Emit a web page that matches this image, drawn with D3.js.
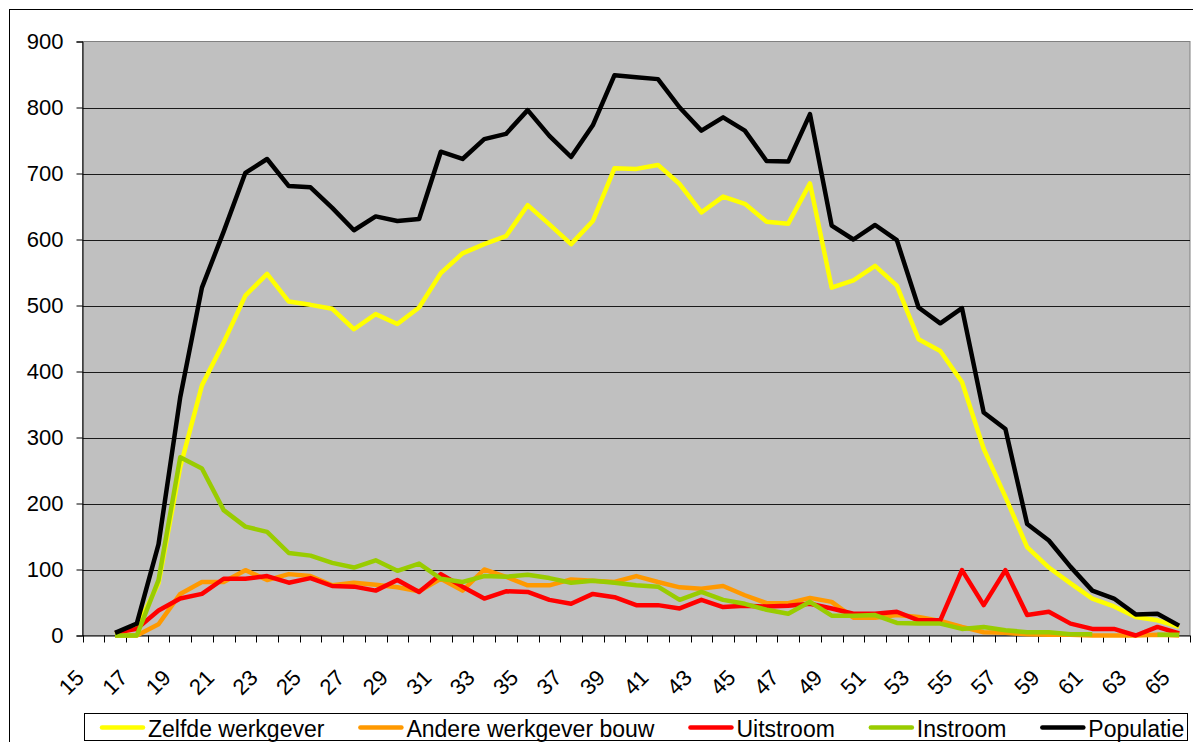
<!DOCTYPE html>
<html>
<head>
<meta charset="utf-8">
<script src="https://cdn.jsdelivr.net/npm/d3@7/dist/d3.min.js"></script>
<style>
  body { margin: 0; background: #fff; }
  svg { display: block; font-family: "Liberation Sans", Arial, sans-serif; }
</style>
</head>
<body>
<div id="chartArea"></div>
<script>
// ages on the x axis (15..65), labels every second one
const ages = d3.range(15, 66);
const tickLabels = ages.filter((a) => (a - 15) % 2 === 0);
const yTicks = [0, 100, 200, 300, 400, 500, 600, 700, 800, 900];

// values for ages 15..65 (null = no point)
const zelfde = [null, 2, 12, 79, 255, 379, 444, 515, 548, 506, 501, 495, 464, 487, 472, 497, 549, 579, 593, 605, 652, 623, 593, 628, 708, 707, 713, 684, 641, 665, 654, 627, 624, 685, 527, 538, 560, 530, 449, 431, 384, 283, 210, 134, 103, 79, 56, 44, 28, 23, 13];
const andere = [null, 0, 0, 17, 63, 81, 81, 99, 84, 93, 90, 76, 80, 77, 73, 67, 86, 68, 100, 89, 76, 76, 85, 83, 81, 90, 81, 73, 71, 75, 61, 49, 49, 57, 51, 27, 27, 31, 28, 22, 13, 5, 4, 2, 1, 1, 0, 0, 0, 1, 0];
const uitstroom = [null, 4, 10, 38, 56, 63, 86, 86, 90, 80, 87, 75, 74, 68, 84, 66, 93, 74, 56, 67, 66, 54, 48, 63, 58, 46, 46, 41, 54, 43, 45, 44, 45, 48, 41, 33, 33, 36, 23, 23, 99, 46, 99, 31, 36, 18, 10, 10, 0, 13, 3];
const instroom = [null, 0, 0, 84, 270, 253, 190, 165, 157, 125, 121, 110, 103, 114, 98, 109, 86, 81, 90, 89, 92, 87, 80, 83, 80, 76, 74, 54, 66, 54, 48, 39, 33, 51, 30, 30, 31, 19, 18, 18, 10, 13, 8, 5, 5, 2, 2, null, null, 1, 1];
const populatie = [null, 4, 18, 138, 361, 527, 612, 701, 722, 681, 679, 648, 614, 635, 628, 631, 733, 722, 752, 760, 796, 757, 725, 773, 849, 846, 843, 800, 765, 785, 765, 719, 718, 790, 621, 600, 622, 599, 497, 473, 496, 338, 313, 169, 144, 104, 68, 56, 32, 33, 15];

const seriesNames = ['Zelfde werkgever', 'Andere werkgever bouw', 'Uitstroom', 'Instroom', 'Populatie'];
const seriesValues = [zelfde, andere, uitstroom, instroom, populatie];
const seriesColors = ['#FFFF00', '#FF9900', '#FF0000', '#99CC00', '#000000'];

const width = 1193;
const height = 742;
const plot = { left: 82.5, top: 41.5, right: 1190, bottom: 635.5 };

const svg = d3.select('#chartArea').append('svg')
  .attr('width', width)
  .attr('height', height);

// outer chart border (runs off the page on the right and bottom)
svg.append('rect')
  .attr('x', 9.5).attr('y', 9.5)
  .attr('width', 1300).attr('height', 900)
  .attr('fill', '#fff')
  .attr('stroke', '#000');

const x = d3.scaleBand().domain(ages).range([plot.left, plot.right]).padding(0);
const y = d3.scaleLinear().domain([0, 900]).range([plot.bottom, plot.top]);

// plot background
svg.append('rect')
  .attr('x', plot.left).attr('y', plot.top)
  .attr('width', plot.right - plot.left).attr('height', plot.bottom - plot.top)
  .attr('fill', '#C0C0C0')
  .attr('stroke', '#808080');

// gridlines
svg.append('g')
  .selectAll('line')
  .data(yTicks.filter((t) => t > 0 && t < 900))
  .enter().append('line')
  .attr('x1', plot.left).attr('x2', plot.right)
  .attr('y1', (d) => Math.round(y(d)) + 0.5)
  .attr('y2', (d) => Math.round(y(d)) + 0.5)
  .attr('stroke', '#1a1a1a');

// Y-axis
const yAxis = svg.append('g')
  .attr('transform', `translate(${plot.left},0)`)
  .call(d3.axisLeft(y).tickValues(yTicks).tickSize(6).tickPadding(13));
yAxis.select('.domain').attr('stroke', '#000');
yAxis.selectAll('.tick line').attr('stroke', '#000');
yAxis.selectAll('.tick text')
  .attr('font-size', 22)
  .attr('fill', '#000')
  .attr('font-family', '"Liberation Sans", Arial, sans-serif');

// X-axis: tick marks on category boundaries
const xg = svg.append('g');
xg.append('line')
  .attr('x1', plot.left).attr('x2', plot.right)
  .attr('y1', plot.bottom + 0.5).attr('y2', plot.bottom + 0.5)
  .attr('stroke', '#000');
xg.selectAll('line.tick')
  .data(ages.concat([66]))
  .enter().append('line')
  .attr('class', 'tick')
  .attr('x1', (d) => Math.round(d <= 65 ? x(d) : plot.right) + 0.5)
  .attr('x2', (d) => Math.round(d <= 65 ? x(d) : plot.right) + 0.5)
  .attr('y1', plot.bottom)
  .attr('y2', plot.bottom + 7)
  .attr('stroke', '#000');
xg.selectAll('text')
  .data(tickLabels)
  .enter().append('text')
  .attr('transform', (d) => `translate(${x(d) + x.bandwidth() / 2 - 8},679) rotate(-45)`)
  .attr('text-anchor', 'end')
  .attr('font-size', 22)
  .attr('fill', '#000')
  .text((d) => d);

// Draw-lines
const line = d3.line()
  .defined((d) => d != null)
  .x((d, i) => x(ages[i]) + x.bandwidth() / 2)
  .y((d) => y(d));

svg.append('g')
  .selectAll('path')
  .data(seriesValues)
  .enter().append('path')
  .attr('d', (d) => line(d))
  .attr('fill', 'none')
  .attr('stroke', (d, i) => seriesColors[i])
  .attr('stroke-width', 4.5)
  .attr('stroke-linejoin', 'round');

// Legend
const legend = svg.append('g');
legend.append('rect')
  .attr('x', 84.5).attr('y', 713.5)
  .attr('width', 1103).attr('height', 27)
  .attr('fill', '#fff')
  .attr('stroke', '#000');

let lx = 102;
seriesNames.forEach((name, i) => {
  legend.append('line')
    .attr('x1', lx).attr('x2', lx + 41)
    .attr('y1', 727.5).attr('y2', 727.5)
    .attr('stroke', seriesColors[i])
    .attr('stroke-width', 4.5)
    .attr('stroke-linecap', 'round');
  const t = legend.append('text')
    .attr('x', lx + 46).attr('y', 736.5)
    .attr('font-size', 23)
    .attr('fill', '#000')
    .text(name);
  lx += 46 + t.node().getComputedTextLength() + 36;
});
</script>
</body>
</html>
